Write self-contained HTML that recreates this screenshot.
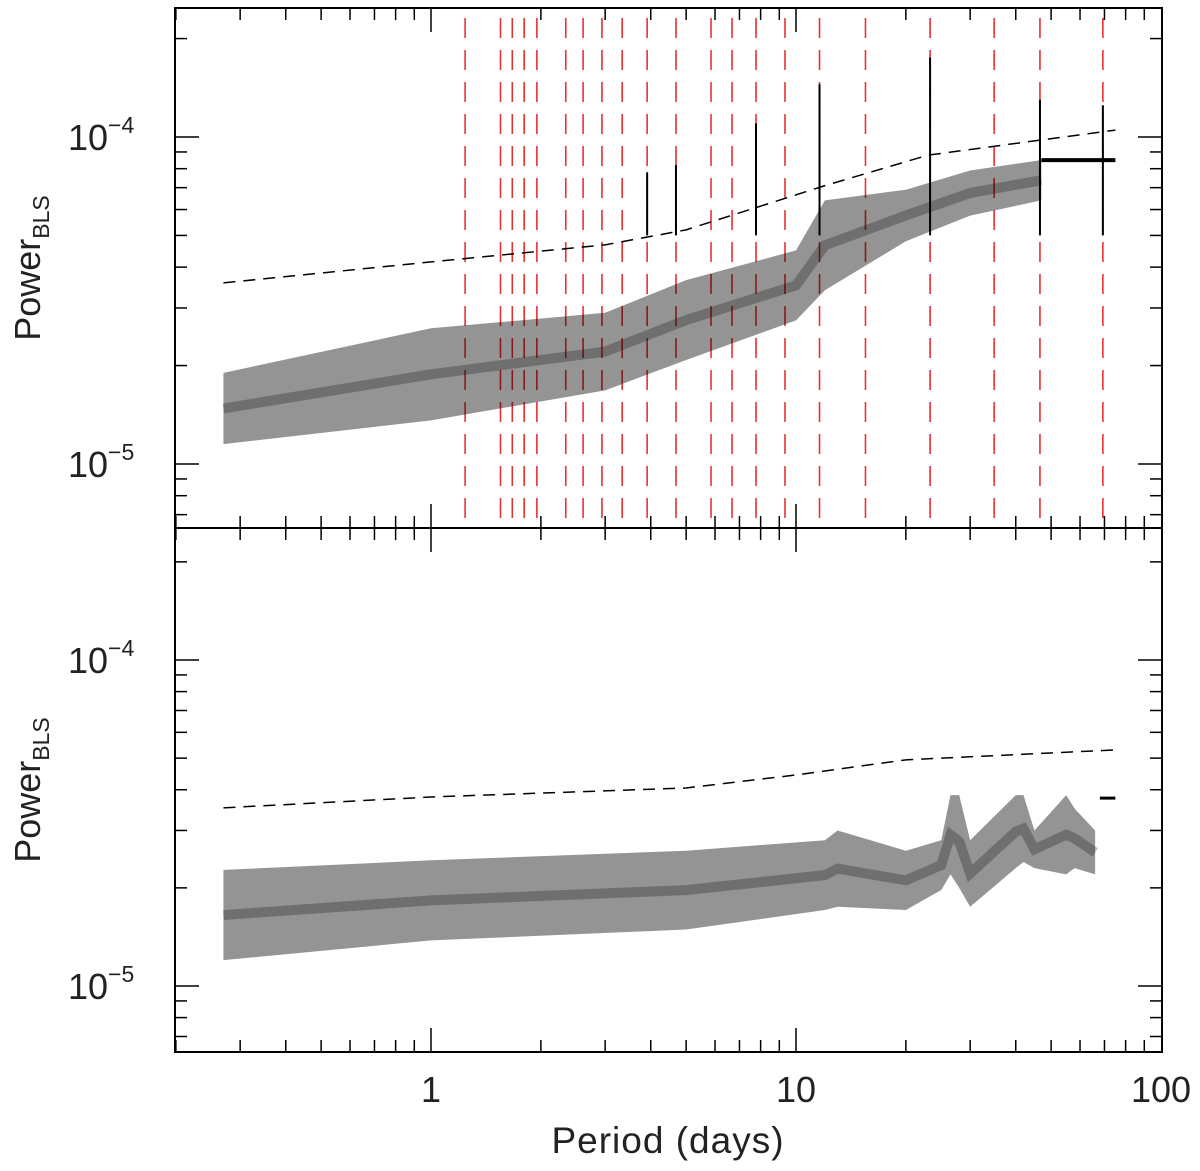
<!DOCTYPE html>
<html><head><meta charset="utf-8"><style>
body{margin:0;background:#fff;}
svg{display:block;font-family:"Liberation Sans",sans-serif;}
</style></head><body>
<svg id="chart" width="1200" height="1171" viewBox="0 0 1200 1171" xmlns="http://www.w3.org/2000/svg"></svg>
<script>
// ---- data ----
const periodTicks = [1, 10, 100];
const periodTickLabels = ["1", "10", "100"];
const topBandPeriods = [0.27, 1, 3, 5, 10, 12, 20, 30, 47];
const topBandUpper = [1.9e-5, 2.6e-5, 2.9e-5, 3.65e-5, 4.5e-5, 6.4e-5, 6.9e-5, 7.9e-5, 8.5e-5];
const topBandLower = [1.15e-5, 1.36e-5, 1.68e-5, 2.08e-5, 2.75e-5, 3.4e-5, 4.8e-5, 5.75e-5, 6.4e-5];
const topFlatPeriods = [47, 75];
const topFlatValue = [8.5e-5, 8.5e-5];
const topThreshP = [0.27, 1, 3, 5, 12, 23, 75];
const topThreshV = [3.58e-5, 4.15e-5, 4.68e-5, 5.2e-5, 7.1e-5, 8.8e-5, 1.05e-4];
const harmonicPeriods = [1.24,1.55,1.67,1.80,1.95,2.34,2.61,2.94,3.34,3.91,4.69,5.85,6.68,7.77,9.33,11.6,15.5,23.3,34.9,46.6,69.3];
const spikePeriods = [3.91, 4.69, 7.77, 11.6, 23.3, 46.6, 69.3];
const spikeValues = [7.8e-5, 8.2e-5, 1.1e-4, 1.45e-4, 1.75e-4, 1.3e-4, 1.25e-4];
const botBandPeriods = [0.27, 1, 5, 12, 13, 20, 25, 26.5, 28, 30, 40, 42, 45, 55, 58, 66];
const botBandUpper = [2.27e-5, 2.43e-5, 2.6e-5, 2.8e-5, 3.0e-5, 2.6e-5, 2.8e-5, 3.85e-5, 3.85e-5, 2.8e-5, 3.85e-5, 3.85e-5, 3.0e-5, 3.85e-5, 3.5e-5, 3.0e-5];
const botBandLower = [1.2e-5, 1.38e-5, 1.49e-5, 1.71e-5, 1.75e-5, 1.71e-5, 1.97e-5, 2.2e-5, 2.0e-5, 1.75e-5, 2.3e-5, 2.4e-5, 2.3e-5, 2.2e-5, 2.3e-5, 2.2e-5];
const botFlatPeriods = [68, 75];
const botFlatValue = [3.77e-5, 3.77e-5];
const botThreshP = [0.27, 1, 5, 10, 20, 75];
const botThreshV = [3.52e-5, 3.80e-5, 4.05e-5, 4.44e-5, 4.94e-5, 5.30e-5];

// ---- layout ----
const svg = document.getElementById('chart');
const NS = 'http://www.w3.org/2000/svg';
const L = 175, R = 1162;
const X = p => 431 + 365 * Math.log10(p);
const Ytop = v => 137 - 327 * (Math.log10(v) + 4);
const Ybot = v => 660 - 326 * (Math.log10(v) + 4);
function mk(tag, attrs, parent) {
  const e = document.createElementNS(NS, tag);
  for (const k in attrs) e.setAttribute(k, attrs[k]);
  (parent || svg).appendChild(e);
  return e;
}
function band(ps, up, lo, Y, name) {
  let pts = ps.map((p, i) => X(p) + ',' + Y(up[i]));
  pts = pts.concat(ps.map((p, i) => X(p) + ',' + Y(lo[i])).reverse());
  const e = mk('polygon', {points: pts.join(' '), fill: '#000', 'fill-opacity': 0.42});
  
  
  const e2 = mk('polyline', {points: ps.map((p, i) => X(p) + ',' + Y((up[i]*lo[i])**0.5)).join(' '), fill: 'none', stroke: '#000', 'stroke-width': 10, 'stroke-opacity': 0.25});
  
  
}
function line(ps, vs, Y, name, dash, w) {
  const e = mk('polyline', {points: ps.map((p, i) => X(p) + ',' + Y(vs[i])).join(' '), fill: 'none', stroke: '#000', 'stroke-width': w, 'stroke-dasharray': dash || 'none'});
  
  
}
function axes(top, bot, Y, name) {
  const g = mk('g', {});
  
  
  mk('rect', {x: L, y: top, width: R - L, height: bot - top, fill: 'none', stroke: '#000', 'stroke-width': 2}, g);
  for (let d = -6; d <= -3; d++) for (let m = 1; m < 10; m++) {
    const v = m * Math.pow(10, d), y = Y(v);
    if (y < top || y > bot) continue;
    const len = m === 1 ? 24 : 12;
    mk('line', {x1: L, x2: L + len, y1: y, y2: y, stroke: '#000', 'stroke-width': 1.5}, g);
    mk('line', {x1: R - len, x2: R, y1: y, y2: y, stroke: '#000', 'stroke-width': 1.5}, g);
    if (m === 1) {
      const t = mk('text', {x: 68, y: y + 13, 'font-size': 36, fill: '#222'}, g);
      
      
      t.textContent = '10';
      const s = mk('tspan', {dy: -17, 'font-size': 23}, t);
      s.textContent = '\u2212' + (-d);
    }
  }
  for (let d = -1; d <= 1; d++) for (let m = 1; m < 10; m++) {
    const x = X(m * Math.pow(10, d));
    if (x < L || x > R) continue;
    const len = m === 1 ? 24 : 12;
    mk('line', {x1: x, x2: x, y1: bot, y2: bot - len, stroke: '#000', 'stroke-width': 1.5}, g);
    mk('line', {x1: x, x2: x, y1: top, y2: top + len, stroke: '#000', 'stroke-width': 1.5}, g);
  }
  const t = mk('text', {transform: `translate(40,${(top+bot)/2}) rotate(-90)`, 'text-anchor': 'middle', 'font-size': 36, fill: '#222'}, g);
  
  
  t.textContent = 'Power';
  const s = mk('tspan', {dy: 9, 'font-size': 23}, t); s.textContent = 'BLS';
}
// top panel
harmonicPeriods.forEach(p => {
  const e = mk('line', {x1: X(p), x2: X(p), y1: 18, y2: 528, stroke: '#e83030', 'stroke-width': 1.6, 'stroke-dasharray': '20 12'});
  
  
});
band(topBandPeriods, topBandUpper, topBandLower, Ytop, 'top-power-cloud');
line(topFlatPeriods, topFlatValue, Ytop, 'top-power-plateau', null, 4);
spikePeriods.forEach((p, i) => {
  const e = mk('line', {x1: X(p), x2: X(p), y1: Ytop(spikeValues[i]), y2: Ytop(5e-5), stroke: '#000', 'stroke-width': 2});
  
  
});
line(topThreshP, topThreshV, Ytop, 'top-threshold', '12 8', 1.5);
axes(8, 528, Ytop, 'top');
// bottom panel
band(botBandPeriods, botBandUpper, botBandLower, Ybot, 'bottom-power-cloud');
line(botFlatPeriods, botFlatValue, Ybot, 'bottom-power-plateau', null, 3);
line(botThreshP, botThreshV, Ybot, 'bottom-threshold', '12 8', 1.5);
axes(528, 1052, Ybot, 'bottom');
periodTicks.forEach((p, i) => {
  const t = mk('text', {x: X(p), y: 1102, 'text-anchor': 'middle', 'font-size': 36, fill: '#222'});
  
  
  t.textContent = periodTickLabels[i];
});
const xt = mk('text', {x: 668, y: 1153, 'text-anchor': 'middle', 'font-size': 37, fill: '#222', 'letter-spacing': 1});


xt.textContent = 'Period (days)';
</script>
</body></html>
